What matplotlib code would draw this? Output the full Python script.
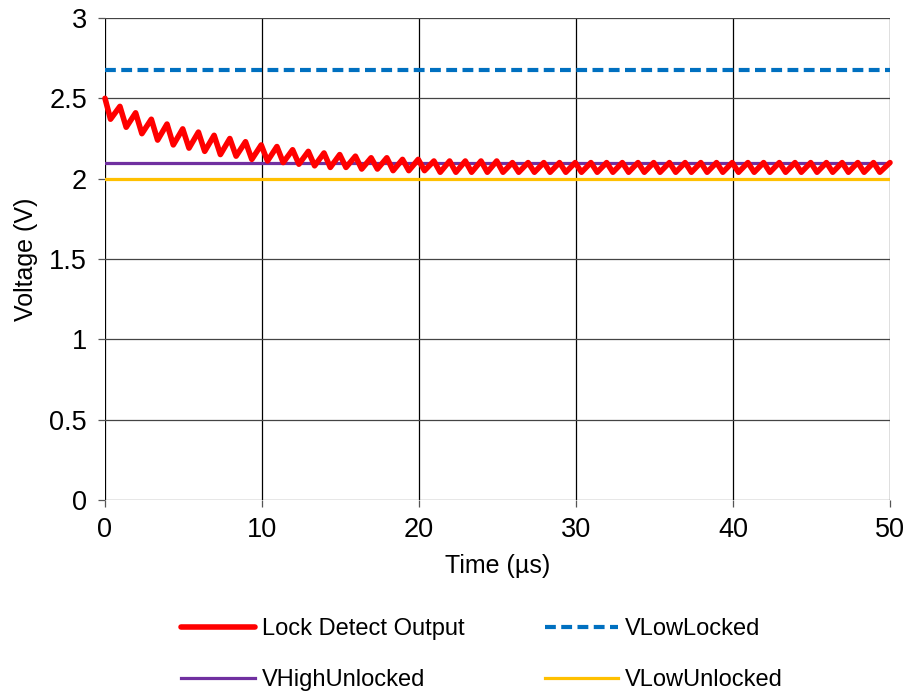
import numpy as np
import matplotlib
matplotlib.use("Agg")
import matplotlib.pyplot as plt

plt.rcParams['font.family'] = ['Liberation Sans', 'DejaVu Sans']

# lock detect output: start value, then a trough/peak pair for every 1 us cycle
start_v = 2.50
trough_t = [k + 0.35 for k in range(50)]
trough_v = [2.37, 2.32, 2.28, 2.24, 2.21, 2.19, 2.17, 2.15, 2.14, 2.12,
            2.11, 2.10, 2.09, 2.08, 2.07, 2.07, 2.06, 2.06, 2.05, 2.05,
            2.05, 2.04, 2.04, 2.04, 2.04, 2.04, 2.04, 2.04, 2.04, 2.04,
            2.04, 2.04, 2.04, 2.04, 2.04, 2.04, 2.04, 2.04, 2.04, 2.04,
            2.04, 2.04, 2.04, 2.04, 2.04, 2.04, 2.04, 2.04, 2.04, 2.04]
peak_t = [k + 0.95 for k in range(49)] + [50.0]
peak_v = [2.45, 2.41, 2.37, 2.34, 2.31, 2.29, 2.27, 2.25, 2.23, 2.21,
          2.20, 2.18, 2.17, 2.16, 2.15, 2.14, 2.13, 2.13, 2.12, 2.12,
          2.11, 2.11, 2.11, 2.11, 2.11, 2.10, 2.10, 2.10, 2.10, 2.10,
          2.10, 2.10, 2.10, 2.10, 2.10, 2.10, 2.10, 2.10, 2.10, 2.10,
          2.10, 2.10, 2.10, 2.10, 2.10, 2.10, 2.10, 2.10, 2.10, 2.10]

v_low_locked = 2.675
v_high_unlocked = 2.10
v_low_unlocked = 2.00

x_ticks = [0, 10, 20, 30, 40, 50]
y_ticks = [0, 0.5, 1, 1.5, 2, 2.5, 3]

# interleave trough/peak points
t = [0.0]
v = [start_v]
for tt, tv, pt, pv in zip(trough_t, trough_v, peak_t, peak_v):
    t += [tt, pt]
    v += [tv, pv]

fig = plt.figure(figsize=(9.07, 6.91), dpi=100)
ax = fig.add_axes([105 / 907, 1 - 500 / 691, 785 / 907, 482 / 691])

ax.set_xlim(0, 50)
ax.set_ylim(0, 3)
ax.set_xticks(x_ticks)
ax.set_yticks(y_ticks)
ax.set_yticklabels([f"{y:g}" for y in y_ticks])

for x in x_ticks:
    ax.axvline(x, color='black', lw=0.9, zorder=1)
for y in y_ticks:
    ax.axhline(y, color='#444444', lw=0.9, zorder=1)
for s in ax.spines.values():
    s.set_visible(False)
ax.tick_params(axis='both', labelsize=19.5, length=5, width=0.9, color='#555555')
ax.tick_params(axis='y', pad=8)
ax.tick_params(axis='x', pad=7)

ax.axhline(v_low_locked, color='#0070C0', lw=3, dashes=(2.6, 1.3), label='VLowLocked', zorder=3)
ax.axhline(v_high_unlocked, color='#7030A0', lw=2.3, label='VHighUnlocked', zorder=3)
ax.axhline(v_low_unlocked, color='#FFC000', lw=2.3, label='VLowUnlocked', zorder=3)
ax.plot(t, v, color='#FF0000', lw=4, solid_joinstyle='round', solid_capstyle='round',
        label='Lock Detect Output', zorder=4, clip_on=False)

ax.set_xlabel('Time (µs)', fontsize=18, labelpad=8)
ax.set_ylabel('Voltage (V)', fontsize=18, labelpad=8)

handles, labels = ax.get_legend_handles_labels()
order = [3, 1, 0, 2]
fig.legend([handles[i] for i in order], [labels[i] for i in order],
           loc='upper center', bbox_to_anchor=(482 / 907, 1 - 609 / 691), ncol=2,
           frameon=False, fontsize=17, handlelength=3.1, handletextpad=0.3,
           columnspacing=3.4, labelspacing=1.2, borderaxespad=0)

fig.savefig('out.png', dpi=100)
